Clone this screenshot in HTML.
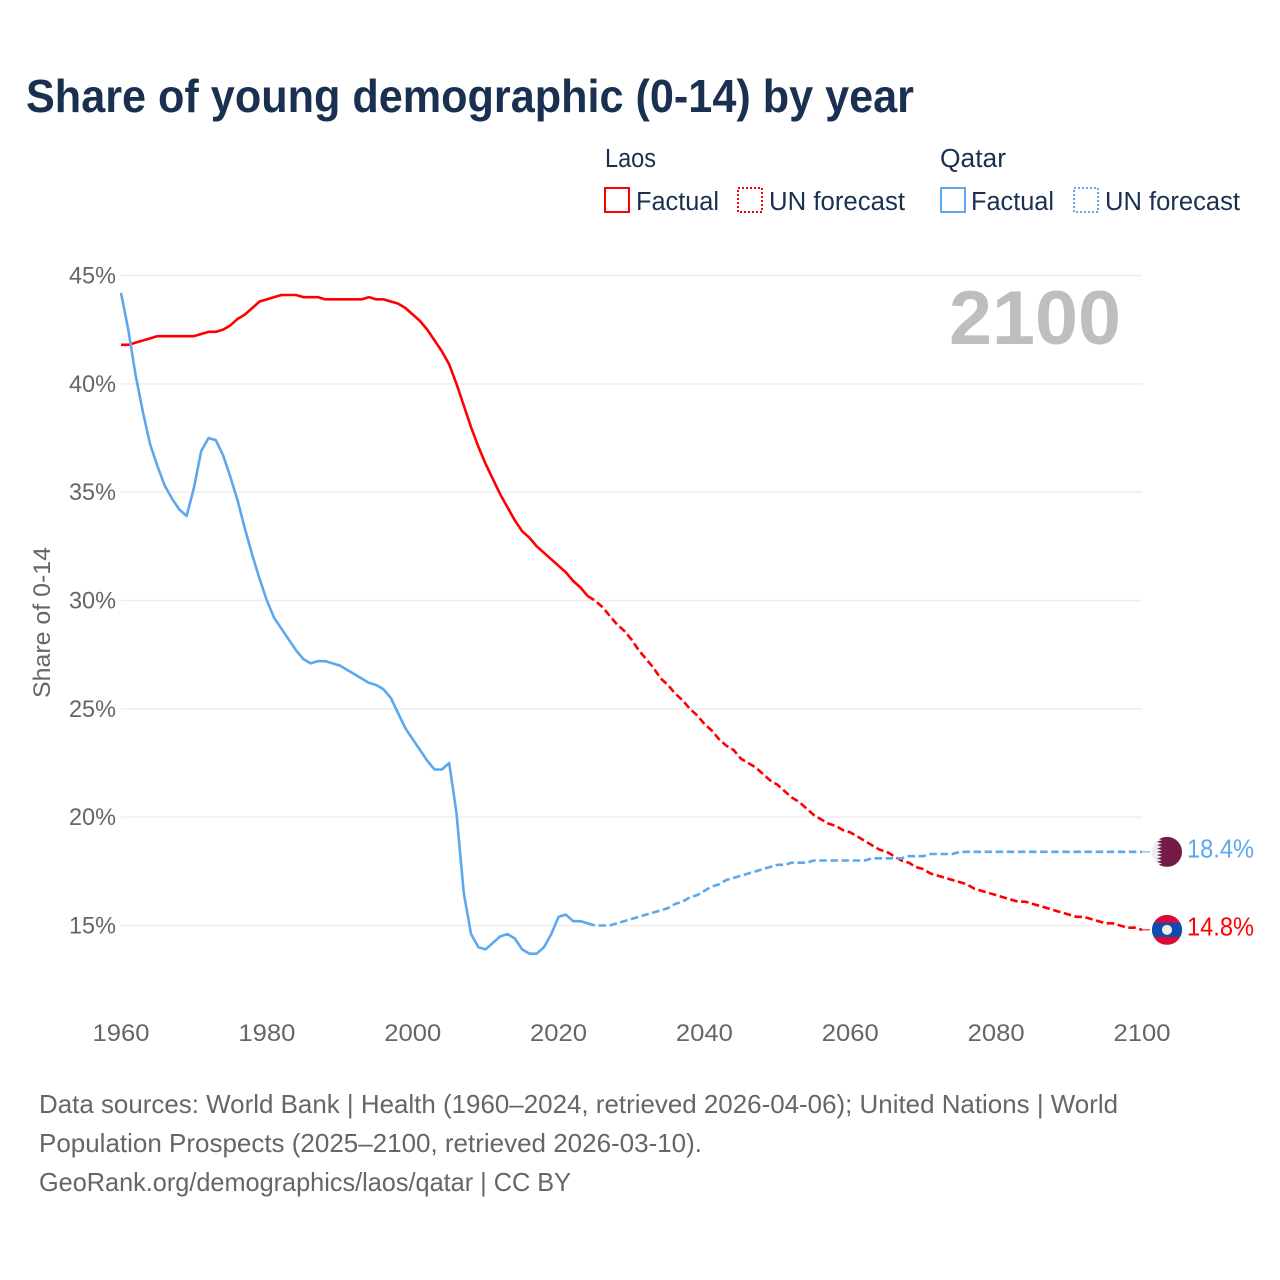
<!DOCTYPE html>
<html lang="en">
<head>
<meta charset="utf-8">
<title>Share of young demographic (0-14) by year</title>
<style>
html,body{margin:0;padding:0;background:#fff;}
svg{display:block;}
text{font-family:"Liberation Sans",sans-serif;}
</style>
</head>
<body>
<svg id="chart" xmlns="http://www.w3.org/2000/svg" width="1280" height="1280" viewBox="0 0 1280 1280">
  <defs>
    <clipPath id="qatar-clip"><circle cx="0" cy="0" r="15"></circle></clipPath>
    <clipPath id="laos-clip"><circle cx="0" cy="0" r="15"></circle></clipPath>
  </defs>
  <rect x="0" y="0" width="1280" height="1280" fill="#ffffff"></rect>
  <text x="26" y="112" font-size="46" font-weight="700" fill="#1a3050" textLength="888" lengthAdjust="spacingAndGlyphs">Share of young demographic (0-14) by year</text>

  <g font-size="25.5" fill="#1a3050">
    <text x="605" y="167" textLength="51" lengthAdjust="spacingAndGlyphs">Laos</text>
    <text x="940" y="167" textLength="66" lengthAdjust="spacingAndGlyphs">Qatar</text>
    <g>
      <rect x="605" y="188" width="24" height="24" fill="none" stroke="#ff0000" stroke-width="2"></rect>
      <text x="636" y="210" textLength="83" lengthAdjust="spacingAndGlyphs">Factual</text>
    </g>
    <g>
      <rect x="738" y="188" width="24" height="24" fill="none" stroke="#ff0000" stroke-width="2" stroke-dasharray="2 2"></rect>
      <text x="769" y="210" textLength="136" lengthAdjust="spacingAndGlyphs">UN forecast</text>
    </g>
    <g>
      <rect x="941" y="188" width="24" height="24" fill="none" stroke="#5ba8ee" stroke-width="2"></rect>
      <text x="971" y="210" textLength="83" lengthAdjust="spacingAndGlyphs">Factual</text>
    </g>
    <g>
      <rect x="1074" y="188" width="24" height="24" fill="none" stroke="#5ba8ee" stroke-width="2" stroke-dasharray="2 2"></rect>
      <text x="1105" y="210" textLength="135" lengthAdjust="spacingAndGlyphs">UN forecast</text>
    </g>
  </g>

  <g id="grid"></g>
  <g id="y-ticks"></g>
  <g id="x-ticks"></g>
  <text x="1121" y="344" text-anchor="end" font-size="76" font-weight="700" fill="#bebebe" textLength="172" lengthAdjust="spacingAndGlyphs">2100</text>
  <text transform="translate(50,698) rotate(-90)" font-size="24" fill="#666666" textLength="151" lengthAdjust="spacingAndGlyphs">Share of 0-14</text>
  <g id="series"></g>
  <g id="end-markers"></g>

  <g font-size="26" fill="#666666">
    <text x="39" y="1113" textLength="1079" lengthAdjust="spacingAndGlyphs">Data sources: World Bank | Health (1960–2024, retrieved 2026-04-06); United Nations | World</text>
    <text x="39" y="1152" textLength="663" lengthAdjust="spacingAndGlyphs">Population Prospects (2025–2100, retrieved 2026-03-10).</text>
    <text x="39" y="1191" textLength="532" lengthAdjust="spacingAndGlyphs">GeoRank.org/demographics/laos/qatar | CC BY</text>
  </g>
</svg>
<script>
const years = [
  1960,1961,1962,1963,1964,1965,1966,1967,1968,1969,
  1970,1971,1972,1973,1974,1975,1976,1977,1978,1979,
  1980,1981,1982,1983,1984,1985,1986,1987,1988,1989,
  1990,1991,1992,1993,1994,1995,1996,1997,1998,1999,
  2000,2001,2002,2003,2004,2005,2006,2007,2008,2009,
  2010,2011,2012,2013,2014,2015,2016,2017,2018,2019,
  2020,2021,2022,2023,2024,2025,2026,2027,2028,2029,
  2030,2031,2032,2033,2034,2035,2036,2037,2038,2039,
  2040,2041,2042,2043,2044,2045,2046,2047,2048,2049,
  2050,2051,2052,2053,2054,2055,2056,2057,2058,2059,
  2060,2061,2062,2063,2064,2065,2066,2067,2068,2069,
  2070,2071,2072,2073,2074,2075,2076,2077,2078,2079,
  2080,2081,2082,2083,2084,2085,2086,2087,2088,2089,
  2090,2091,2092,2093,2094,2095,2096,2097,2098,2099,
  2100
];
const laosShare = [
  41.8,41.8,41.9,42.0,42.1,42.2,42.2,42.2,42.2,42.2,
  42.2,42.3,42.4,42.4,42.5,42.7,43.0,43.2,43.5,43.8,
  43.9,44.0,44.1,44.1,44.1,44.0,44.0,44.0,43.9,43.9,
  43.9,43.9,43.9,43.9,44.0,43.9,43.9,43.8,43.7,43.5,
  43.2,42.9,42.5,42.0,41.5,40.9,40.0,39.0,38.0,37.1,
  36.3,35.6,34.9,34.3,33.7,33.2,32.9,32.5,32.2,31.9,
  31.6,31.3,30.9,30.6,30.2,30.0,29.7,29.3,28.9,28.6,
  28.2,27.7,27.3,26.9,26.4,26.1,25.7,25.4,25.0,24.7,
  24.3,24.0,23.6,23.3,23.1,22.7,22.5,22.3,22.0,21.7,
  21.5,21.2,20.9,20.7,20.4,20.1,19.9,19.7,19.6,19.4,
  19.3,19.1,18.9,18.7,18.5,18.4,18.2,18.0,17.9,17.7,
  17.6,17.4,17.3,17.2,17.1,17.0,16.9,16.7,16.6,16.5,
  16.4,16.3,16.2,16.1,16.1,16.0,15.9,15.8,15.7,15.6,
  15.5,15.4,15.4,15.3,15.2,15.1,15.1,15.0,14.9,14.9,
  14.8
];
const qatarShare = [
  44.2,42.5,40.4,38.7,37.2,36.2,35.3,34.7,34.2,33.9,
  35.2,36.9,37.5,37.4,36.7,35.7,34.6,33.3,32.1,31.0,
  30.0,29.2,28.7,28.2,27.7,27.3,27.1,27.2,27.2,27.1,
  27.0,26.8,26.6,26.4,26.2,26.1,25.9,25.5,24.8,24.1,
  23.6,23.1,22.6,22.2,22.2,22.5,20.2,16.5,14.6,14.0,
  13.9,14.2,14.5,14.6,14.4,13.9,13.7,13.7,14.0,14.6,
  15.4,15.5,15.2,15.2,15.1,15.0,15.0,15.0,15.1,15.2,
  15.3,15.4,15.5,15.6,15.7,15.8,16.0,16.1,16.3,16.4,
  16.6,16.8,16.9,17.1,17.2,17.3,17.4,17.5,17.6,17.7,
  17.8,17.8,17.9,17.9,17.9,18.0,18.0,18.0,18.0,18.0,
  18.0,18.0,18.0,18.1,18.1,18.1,18.1,18.1,18.2,18.2,
  18.2,18.3,18.3,18.3,18.3,18.4,18.4,18.4,18.4,18.4,
  18.4,18.4,18.4,18.4,18.4,18.4,18.4,18.4,18.4,18.4,
  18.4,18.4,18.4,18.4,18.4,18.4,18.4,18.4,18.4,18.4,
  18.4
];
const lastFactualYear = 2024;
const yTickValues = [15,20,25,30,35,40,45];
const yTickLabels = ["15%","20%","25%","30%","35%","40%","45%"];
const xTickValues = [1960,1980,2000,2020,2040,2060,2080,2100];
const xTickLabels = ["1960","1980","2000","2020","2040","2060","2080","2100"];

const NS = "http://www.w3.org/2000/svg";
const plot = { left: 121, right: 1142, y15: 925.5, y45: 275.5 };
const colors = { laos: "#ff0000", qatar: "#5ba8ee" };

function xScale(year) {
  return plot.left + (year - 1960) * (plot.right - plot.left) / (2100 - 1960);
}
function yScale(value) {
  return plot.y15 + (value - 15) * (plot.y45 - plot.y15) / (45 - 15);
}
function make(tag, parent) {
  const el = document.createElementNS(NS, tag);
  parent.appendChild(el);
  return el;
}

const gridGroup = document.getElementById("grid");


const yTickGroup = document.getElementById("y-ticks");


const xTickGroup = document.getElementById("x-ticks");


const seriesGroup = document.getElementById("series");


const markerGroup = document.getElementById("end-markers");



yTickValues.forEach(function (v, i) {
  const line = make("line", gridGroup);
  
  
  line.setAttribute("x1", plot.left);
  line.setAttribute("x2", plot.right);
  line.setAttribute("y1", yScale(v));
  line.setAttribute("y2", yScale(v));
  line.setAttribute("stroke", "#eeeeee");
  line.setAttribute("stroke-width", "1.5");
  const label = make("text", yTickGroup);
  
  
  label.setAttribute("x", 116);
  label.setAttribute("y", yScale(v) + 8);
  label.setAttribute("text-anchor", "end");
  label.setAttribute("font-size", "24.5");
  label.setAttribute("fill", "#666666");
  label.setAttribute("textLength", "47");
  label.setAttribute("lengthAdjust", "spacingAndGlyphs");
  label.textContent = yTickLabels[i];
});

xTickValues.forEach(function (year, i) {
  const label = make("text", xTickGroup);
  
  
  label.setAttribute("x", xScale(year));
  label.setAttribute("y", 1041);
  label.setAttribute("text-anchor", "middle");
  label.setAttribute("font-size", "24.5");
  label.setAttribute("fill", "#666666");
  label.setAttribute("textLength", "57");
  label.setAttribute("lengthAdjust", "spacingAndGlyphs");
  label.textContent = xTickLabels[i];
});

function pathFor(values, keep) {
  let d = "";
  years.forEach(function (year, i) {
    if (!keep(year)) return;
    d += (d ? "L" : "M") + xScale(year).toFixed(2) + " " + yScale(values[i]).toFixed(2);
  });
  return d;
}
function isFactual(year) { return year <= lastFactualYear; }
function isForecast(year) { return year >= lastFactualYear; }

const laosFactual = make("path", seriesGroup);


laosFactual.setAttribute("d", pathFor(laosShare, isFactual));
const laosForecast = make("path", seriesGroup);


laosForecast.setAttribute("d", pathFor(laosShare, isForecast));
const qatarFactual = make("path", seriesGroup);


qatarFactual.setAttribute("d", pathFor(qatarShare, isFactual));
const qatarForecast = make("path", seriesGroup);


qatarForecast.setAttribute("d", pathFor(qatarShare, isForecast));

[[laosFactual, colors.laos, false], [laosForecast, colors.laos, true],
 [qatarFactual, colors.qatar, false], [qatarForecast, colors.qatar, true]].forEach(function (s) {
  s[0].setAttribute("fill", "none");
  s[0].setAttribute("stroke", s[1]);
  s[0].setAttribute("stroke-width", "2.6");
  s[0].setAttribute("stroke-linejoin", "round");
  if (s[2]) s[0].setAttribute("stroke-dasharray", "7.5 3.6");
});

/* Flags and value labels follow the final data point */
const flagX = 1167;
const lastIndex = years.length - 1;

function addConnector(value, color) {
  const c = make("line", markerGroup);
  
  
  c.setAttribute("x1", plot.right);
  c.setAttribute("x2", flagX - 17);
  c.setAttribute("y1", yScale(value));
  c.setAttribute("y2", yScale(value));
  c.setAttribute("stroke", color);
  c.setAttribute("stroke-width", "1");
}
function addValueLabel(name, value, color) {
  const t = make("text", markerGroup);
  
  
  t.setAttribute("x", 1187);
  t.setAttribute("y", yScale(value) + 5.5);
  t.setAttribute("font-size", "25.5");
  t.setAttribute("fill", color);
  t.setAttribute("textLength", "67");
  t.setAttribute("lengthAdjust", "spacingAndGlyphs");
  t.textContent = value.toFixed(1) + "%";
}

addConnector(qatarShare[lastIndex], colors.qatar);
addConnector(laosShare[lastIndex], colors.laos);

const qatarFlag = make("g", markerGroup);


qatarFlag.setAttribute("transform", "translate(" + flagX + "," + yScale(qatarShare[lastIndex]) + ")");
qatarFlag.setAttribute("clip-path", "url(#qatar-clip)");
const qatarWhite = make("rect", qatarFlag);
qatarWhite.setAttribute("x", -15);
qatarWhite.setAttribute("y", -15);
qatarWhite.setAttribute("width", 30);
qatarWhite.setAttribute("height", 30);
qatarWhite.setAttribute("fill", "#eeeeee");
const qatarMaroon = make("polygon", qatarFlag);
let zigzag = "15,-15 -5,-15";
for (let k = 0; k < 9; k++) {
  const top = -15 + k * 30 / 9;
  zigzag += " " + (-10) + "," + (top + 15 / 9) + " " + (-5) + "," + (top + 30 / 9);
}
zigzag += " 15,15";
qatarMaroon.setAttribute("points", zigzag);
qatarMaroon.setAttribute("fill", "#741b47");

const laosFlag = make("g", markerGroup);


laosFlag.setAttribute("transform", "translate(" + flagX + "," + yScale(laosShare[lastIndex]) + ")");
laosFlag.setAttribute("clip-path", "url(#laos-clip)");
const laosRed = make("rect", laosFlag);
laosRed.setAttribute("x", -15);
laosRed.setAttribute("y", -15);
laosRed.setAttribute("width", 30);
laosRed.setAttribute("height", 30);
laosRed.setAttribute("fill", "#d80b36");
const laosBlue = make("rect", laosFlag);
laosBlue.setAttribute("x", -15);
laosBlue.setAttribute("y", -7);
laosBlue.setAttribute("width", 30);
laosBlue.setAttribute("height", 14);
laosBlue.setAttribute("fill", "#0a4fb0");
const laosDisc = make("circle", laosFlag);
laosDisc.setAttribute("cx", 0);
laosDisc.setAttribute("cy", 0);
laosDisc.setAttribute("r", 5);
laosDisc.setAttribute("fill", "#eeeeee");

addValueLabel("qatar-end-value", qatarShare[lastIndex], colors.qatar);
addValueLabel("laos-end-value", laosShare[lastIndex], colors.laos);
</script>
</body>
</html>
